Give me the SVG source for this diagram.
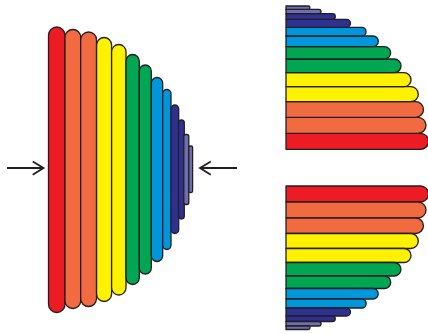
<svg xmlns="http://www.w3.org/2000/svg" width="428" height="334" viewBox="0 0 428 334">
<style>
.b{stroke:#231f20;stroke-width:1.3;stroke-linejoin:round}
.r{fill:#ed1c24}.o{fill:#f26b40}.y{fill:#fff200}.g{fill:#00a651}.c{fill:#0096db}.n{fill:#2e3192}.l{fill:#6f6fb0}
.a{fill:none;stroke:#231f20;stroke-width:1.8}
</style>
<rect width="428" height="334" fill="#ffffff"/>
<g id="left-stack">
<rect class="b r" x="48.5" y="27" width="16.5" height="285.5" rx="8.25"/>
<rect class="b o" x="65" y="29.5" width="15.7" height="279" rx="7.85"/>
<rect class="b o" x="80.7" y="32" width="15.8" height="274.5" rx="7.9"/>
<rect class="b y" x="96.6" y="37.5" width="15" height="264" rx="7.5"/>
<rect class="b y" x="111.6" y="44.5" width="14.4" height="250.5" rx="7.2"/>
<rect class="b g" x="126" y="54.5" width="13.3" height="230" rx="6.65"/>
<rect class="b g" x="139.3" y="65" width="12" height="209" rx="6"/>
<rect class="b c" x="151.3" y="77.5" width="11.4" height="184" rx="5.7"/>
<rect class="b c" x="162.7" y="89.5" width="8.3" height="160" rx="4.15"/>
<rect class="b n" x="171" y="105" width="7.7" height="128.5" rx="3.85"/>
<rect class="b n" x="178.5" y="120" width="5.8" height="99" rx="2.9"/>
<rect class="b l" x="183.8" y="134.5" width="5" height="70" rx="2"/>
<rect class="b l" x="188.8" y="146" width="3.8" height="46.5" rx="1.5"/>
</g>
<g id="top-right-stack">
<path class="b r" d="M286,133.3H420.5A8,8 0 0 1 420.5,149.3H286Z"/>
<path class="b o" d="M286,117.3H418A8,8 0 0 1 418,133.3H286Z"/>
<path class="b o" d="M286,101.7H415.7A7.8,7.8 0 0 1 415.7,117.3H286Z"/>
<path class="b y" d="M286,86.7H410.8A7.5,7.5 0 0 1 410.8,101.7H286Z"/>
<path class="b y" d="M286,72.7H404A7,7 0 0 1 404,86.7H286Z"/>
<path class="b g" d="M286,59H394.2A6.85,6.85 0 0 1 394.2,72.7H286Z"/>
<path class="b g" d="M286,46.7H384.5A6.15,6.15 0 0 1 384.5,59H286Z"/>
<path class="b c" d="M286,36H373A5.35,5.35 0 0 1 373,46.7H286Z"/>
<path class="b c" d="M286,27.3H361.7A4.35,4.35 0 0 1 361.7,36H286Z"/>
<path class="b n" d="M286,19.3H346.5A4,4 0 0 1 346.5,27.3H286Z"/>
<path class="b n" d="M286,13.7H332.5A2.8,2.8 0 0 1 332.5,19.3H286Z"/>
<path class="b l" d="M286,9.3H318.8A2.2,2.2 0 0 1 318.8,13.7H286Z"/>
<path class="b l" d="M286,6H308.3A1.65,1.65 0 0 1 308.3,9.3H286Z"/>
</g>
<g id="bottom-right-stack">
<path class="b r" d="M286,186H420.5A8,8 0 0 1 420.5,202H286Z"/>
<path class="b o" d="M286,202H418A8,8 0 0 1 418,218H286Z"/>
<path class="b o" d="M286,218H415.7A7.75,7.75 0 0 1 415.7,233.5H286Z"/>
<path class="b y" d="M286,233.5H410.8A7.5,7.5 0 0 1 410.8,248.5H286Z"/>
<path class="b y" d="M286,248.5H404A7,7 0 0 1 404,262.5H286Z"/>
<path class="b g" d="M286,262.5H394.2A6.75,6.75 0 0 1 394.2,276H286Z"/>
<path class="b g" d="M286,276H384.5A6.25,6.25 0 0 1 384.5,288.5H286Z"/>
<path class="b c" d="M286,288.5H373A5.25,5.25 0 0 1 373,299H286Z"/>
<path class="b c" d="M286,299H361.7A4.5,4.5 0 0 1 361.7,308H286Z"/>
<path class="b n" d="M286,308H346.5A4,4 0 0 1 346.5,316H286Z"/>
<path class="b n" d="M286,316H332.5A2.75,2.75 0 0 1 332.5,321.5H286Z"/>
<path class="b l" d="M286,321.5H318.8A2.25,2.25 0 0 1 318.8,326H286Z"/>
<path class="b l" d="M286,326H308.3A1.75,1.75 0 0 1 308.3,329.5H286Z"/>
</g>
<g id="connectors">
<path class="a" d="M7,168H43.5M32.7,161.5L43.5,168L32.7,174.8"/>
<path class="a" d="M237,168H200M210.8,161.5L200,168L210.8,174.8"/>
</g>
</svg>
